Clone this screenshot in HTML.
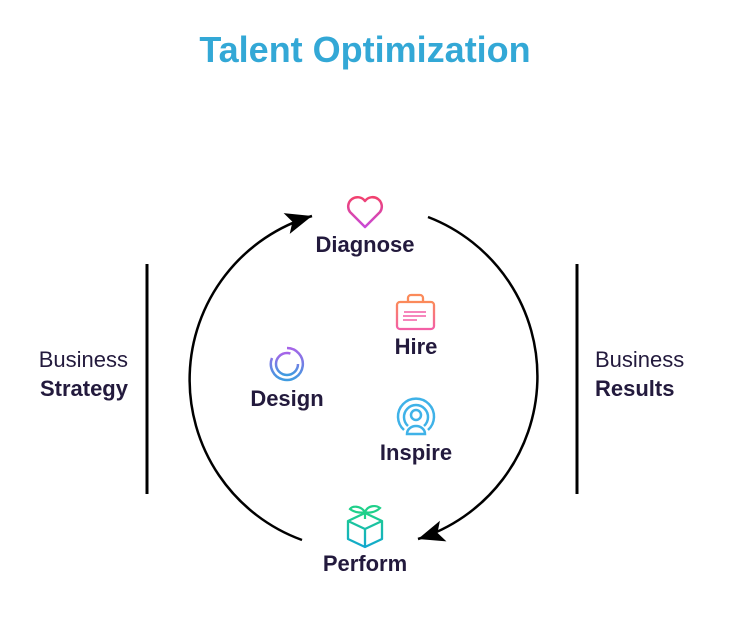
<!DOCTYPE html>
<html><head><meta charset="utf-8"><style>
html,body{margin:0;padding:0;background:#fff;width:745px;height:637px;overflow:hidden}
text{font-family:"Liberation Sans",Arial,sans-serif}
</style></head><body>
<svg width="745" height="637" viewBox="0 0 745 637" xmlns="http://www.w3.org/2000/svg">
<defs>
<linearGradient id="gh" x1="0" y1="0" x2="0" y2="1"><stop offset="0" stop-color="#f2416e"/><stop offset="1" stop-color="#c84ad8"/></linearGradient>
<linearGradient id="gb" x1="0" y1="0" x2="0" y2="1"><stop offset="0" stop-color="#fb8a5a"/><stop offset="1" stop-color="#f35fa6"/></linearGradient>
<linearGradient id="gd" x1="0" y1="0" x2="0" y2="1"><stop offset="0" stop-color="#a764e8"/><stop offset="1" stop-color="#3f9be0"/></linearGradient>
<linearGradient id="gp" x1="0" y1="0" x2="0" y2="1"><stop offset="0" stop-color="#1fd08a"/><stop offset="1" stop-color="#12a8cf"/></linearGradient>
<marker id="ar" viewBox="0 0 10 10" refX="10" refY="5" markerWidth="12" markerHeight="12" markerUnits="userSpaceOnUse" orient="auto" style="overflow:visible">
<path d="M-12 -4 L10 5 L-12 14 L-7 5 Z" fill="#000"/>
</marker>
</defs>
<text x="365" y="62" text-anchor="middle" font-size="36" font-weight="bold" fill="#33a8d6">Talent Optimization</text>

<path d="M302 540 A170.6 170.6 0 0 1 312 216" fill="none" stroke="#000" stroke-width="2.5" marker-end="url(#ar)"/>
<path d="M428 217 A170.6 170.6 0 0 1 418 539" fill="none" stroke="#000" stroke-width="2.5" marker-end="url(#ar)"/>

<line x1="147" y1="264" x2="147" y2="494" stroke="#000" stroke-width="3"/>
<line x1="577" y1="264" x2="577" y2="494" stroke="#000" stroke-width="3"/>

<text x="128" y="367" text-anchor="end" font-size="22" fill="#231a3d">Business</text>
<text x="128" y="396" text-anchor="end" font-size="22" font-weight="bold" fill="#231a3d">Strategy</text>
<text x="595" y="367" font-size="22" fill="#231a3d">Business</text>
<text x="595" y="396" font-size="22" font-weight="bold" fill="#231a3d">Results</text>

<path d="M365 227 L350 212 A8 8 0 0 1 365 201 A8 8 0 0 1 380 212 Z" fill="none" stroke="url(#gh)" stroke-width="2.5" stroke-linejoin="round"/>
<text x="365" y="252" text-anchor="middle" font-size="22" font-weight="bold" fill="#231a3d">Diagnose</text>

<rect x="397" y="302" width="37" height="27" rx="3" fill="none" stroke="url(#gb)" stroke-width="2.3"/>
<path d="M408 302 v-4 a3 3 0 0 1 3 -3 h9 a3 3 0 0 1 3 3 v4" fill="none" stroke="#fb8a5a" stroke-width="2.3"/>
<path d="M404 312 h22 M403 316 h23 M403 320 h14" stroke="#f35fa6" stroke-width="1.5"/>
<text x="416" y="354" text-anchor="middle" font-size="22" font-weight="bold" fill="#231a3d">Hire</text>

<path d="M287 348 A16 16 0 1 1 272 358" fill="none" stroke="url(#gd)" stroke-width="2.5"/>
<circle cx="287" cy="364" r="11" fill="none" stroke="url(#gd)" stroke-width="2.5" stroke-dasharray="55 14"/>
<text x="287" y="406" text-anchor="middle" font-size="22" font-weight="bold" fill="#231a3d">Design</text>

<path d="M404 430 A18 18 0 1 1 428 430" fill="none" stroke="#3fb2e8" stroke-width="2.5"/>
<path d="M408 426 A12 12 0 1 1 424 426" fill="none" stroke="#3fb2e8" stroke-width="2.5"/>
<circle cx="416" cy="415" r="5" fill="none" stroke="#3fb2e8" stroke-width="2.5"/>
<path d="M407 434 a9 8 0 0 1 18 0 z" fill="none" stroke="#3fb2e8" stroke-width="2.5"/>
<text x="416" y="460" text-anchor="middle" font-size="22" font-weight="bold" fill="#231a3d">Inspire</text>

<path d="M348 521 L365 513 L382 521 L365 529 Z M348 521 V539 L365 547 L382 539 V521 M365 529 V547" fill="none" stroke="url(#gp)" stroke-width="2.3" stroke-linejoin="round"/>
<path d="M365 519 V512 M365 512 C360 505 352 506 350 509 C355 513 362 513 365 512 C368 505 376 505 380 508 C375 513 368 513 365 512" fill="none" stroke="#1fd08a" stroke-width="2.2"/>
<text x="365" y="571" text-anchor="middle" font-size="22" font-weight="bold" fill="#231a3d">Perform</text>
</svg>
</body></html>
